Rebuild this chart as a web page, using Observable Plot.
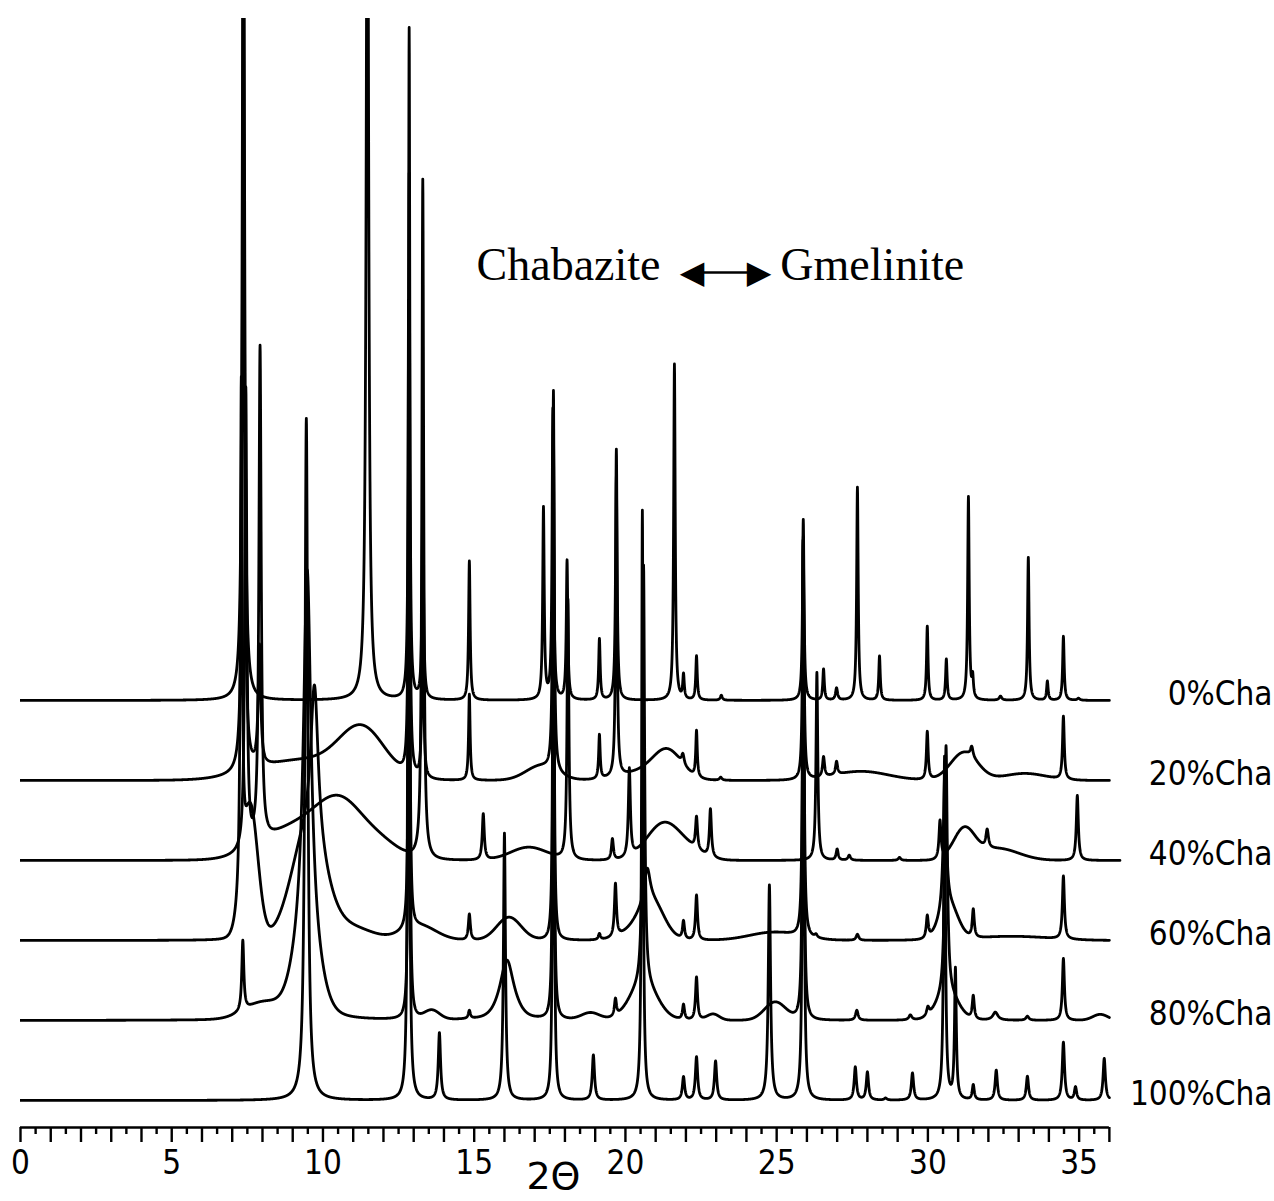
<!DOCTYPE html>
<html><head><meta charset="utf-8">
<script src="https://cdn.jsdelivr.net/npm/d3@7"></script>
<script src="https://cdn.jsdelivr.net/npm/@observablehq/plot@0.6"></script>
<style>body{margin:0;background:#fff} #chart{width:1274px;height:1201px}</style>
</head><body><div id="chart"></div>
<script>
// ---- data (2-theta, relative intensity) ----
const seriesLabels  = ["0%Cha", "20%Cha", "40%Cha", "60%Cha", "80%Cha", "100%Cha"];
const seriesOffsets = [400, 320, 240, 160, 80, 0];
const seriesEnds    = [36.0, 36.0, 36.35, 36.0, 36.0, 36.0];

// sharp reflections: [2theta, height, half-width]
const cha0Sharp = [
  [7.37,1000,0.04],[11.47,1000,0.045],[12.85,671,0.025],[13.3,200,0.03],[14.84,139,0.03],
  [17.29,191,0.03],[17.6,290,0.03],[18.07,139,0.03],[19.14,61,0.03],[19.7,251,0.03],
  [21.62,336,0.03],[21.92,24,0.03],[22.35,44,0.03],[23.17,5,0.04],[25.88,181,0.03],
  [26.55,31,0.03],[26.98,12,0.04],[27.67,213,0.03],[28.4,44,0.03],[29.98,74,0.03],
  [30.61,41,0.03],[31.34,203,0.03],[31.48,20,0.03],[32.4,4,0.05],[33.32,143,0.03],
  [33.95,19,0.03],[34.48,64,0.03],[34.98,2,0.05]
];
const cha20Sharp = [
  [7.37,800,0.04],[7.9,120,0.05],[12.85,600,0.025],[13.3,200,0.03],[14.84,86,0.03],
  [17.62,380,0.03],[19.14,44,0.03],[19.7,300,0.03],[21.9,10,0.05],[22.35,46,0.03],
  [23.15,3,0.05],[25.88,240,0.03],[26.55,20,0.04],[26.98,13,0.04],[29.98,48,0.035],
  [31.45,10,0.05],[34.48,63,0.035]
];
const cha40Sharp = [
  [7.45,460,0.04],[7.92,495,0.045],[13.3,680,0.035],[15.3,46,0.04],[18.1,260,0.035],
  [19.57,21,0.04],[20.13,88,0.04],[22.35,32,0.04],[22.81,48,0.04],[26.33,188,0.035],
  [27.0,11,0.04],[27.4,5,0.05],[29.06,3,0.05],[30.4,38,0.04],[31.96,18,0.05],[34.94,65,0.04]
];
const cha60Sharp = [
  [7.3,500,0.035],[9.72,160,0.15],[12.85,600,0.025],[14.84,26,0.04],[17.62,520,0.025],
  [19.14,6,0.04],[19.67,53,0.04],[20.72,35,0.12],[21.92,18,0.04],[22.35,45,0.04],
  [25.88,400,0.03],[26.3,3,0.05],[27.67,6,0.05],[29.98,22,0.04],[30.56,140,0.06],
  [31.5,28,0.04],[34.48,63,0.04]
];
const cha80Sharp = [
  [7.35,70,0.04],[9.48,380,0.15],[12.85,700,0.025],[14.84,8,0.04],[16.08,45,0.25],
  [17.62,600,0.025],[19.67,17,0.04],[20.6,420,0.04],[21.92,15,0.04],[22.35,43,0.04],
  [25.88,480,0.03],[27.65,10,0.05],[29.42,5,0.06],[30.0,8,0.05],[30.6,250,0.05],
  [31.5,23,0.04],[32.23,8,0.1],[33.29,4,0.06],[34.48,62,0.04]
];
const cha100Sharp = [
  [9.45,682,0.055],[12.83,800,0.03],[13.85,67,0.045],[16.0,267,0.04],[17.62,693,0.025],
  [18.94,45,0.045],[20.56,590,0.03],[21.92,23,0.045],[22.35,43,0.045],[22.98,39,0.045],
  [24.76,215,0.045],[25.88,560,0.03],[27.6,33,0.045],[28.0,28,0.045],[28.6,2,0.05],
  [29.49,27,0.045],[30.55,343,0.035],[30.91,130,0.035],[31.5,15,0.04],[32.26,30,0.045],
  [33.29,24,0.045],[34.48,58,0.045],[34.88,13,0.045],[35.83,42,0.045]
];

// broad (diffuse) features: [2theta, height, spread]
const cha0Broad = [];
const cha20Broad = [
  [9.3,20,1.4],[11.3,48,0.75],[17.2,14,0.5],[20.8,10,0.8],[21.4,24,0.45],
  [27.8,9,0.9],[31.2,28,0.45],[33.2,7,0.7]
];
const cha40Broad = [
  [9.0,30,1.0],[10.6,55,0.8],[12.0,12,0.6],[16.8,13,0.6],[21.25,36,0.55],
  [22.1,8,0.5],[31.2,30,0.35],[32.3,12,0.7]
];
const cha60Broad = [
  [7.6,130,0.25],[9.5,100,0.55],[10.9,12,0.7],[13.2,14,0.55],[16.15,23,0.4],
  [20.4,10,0.5],[20.9,32,0.4],[24.9,8,0.8],[30.7,32,0.3],[32.8,4,1.2]
];
const cha80Broad = [
  [8.0,15,0.6],[9.45,70,0.4],[13.6,9,0.25],[16.1,15,0.3],[18.85,7,0.3],
  [20.6,35,0.45],[22.9,6,0.2],[24.95,18,0.35],[30.65,25,0.35],[35.7,6,0.25]
];
const cha100Broad = [];

const sharpLists = [cha0Sharp, cha20Sharp, cha40Sharp, cha60Sharp, cha80Sharp, cha100Sharp];
const broadLists = [cha0Broad, cha20Broad, cha40Broad, cha60Broad, cha80Broad, cha100Broad];

const majorTicks = d3.range(0, 37, 1);
const minorTicks = d3.range(0.5, 36, 1);
const axisTitle = "2Θ";
const titleLeft = "Chabazite";
const titleRight = "Gmelinite";

// ---- build the patterns from the peak lists ----
function intensity(sharp, broad, x) {
  let y = 0;
  for (const [c, h, w] of sharp) { const d = (x - c) / w; y += h / (1 + d * d); }
  for (const [c, h, s] of broad) { const d = (x - c) / s; y += h * Math.exp(-0.5 * d * d); }
  return y;
}
const rows = [];
seriesLabels.forEach((label, i) => {
  const end = seriesEnds[i];
  const xs = d3.range(0, end + 1e-9, 0.005).concat(sharpLists[i].map(p => p[0]));
  xs.sort((a, b) => a - b);
  for (const x of xs) {
    rows.push({series: label, x, y: seriesOffsets[i] + intensity(sharpLists[i], broadLists[i], x)});
  }
});
const labelRows = seriesLabels.map((label, i) => ({label, y: seriesOffsets[i] + 6}));

const sansCond = "'DejaVu Sans Condensed', 'DejaVu Sans', sans-serif";
const serif = "'Liberation Serif', 'Times New Roman', serif";

const chart = Plot.plot({
  width: 1274, height: 1201,
  marginLeft: 20, marginRight: 150, marginTop: 18, marginBottom: 74,
  x: {domain: [0, 36.5], axis: null},
  y: {domain: [-27, 1082], axis: null},
  style: {background: "#fff", color: "#000"},
  marks: [
    Plot.line(rows, {x: "x", y: "y", z: "series", stroke: "#000", strokeWidth: 2.8, clip: true}),
    Plot.ruleY([{y: -27, x1: 0, x2: 36}], {y: "y", x1: "x1", x2: "x2", stroke: "#000", strokeWidth: 2.6}),
    Plot.axisX({ticks: minorTicks, tickSize: 7, tickFormat: () => "", strokeWidth: 2.4}),
    Plot.axisX({ticks: majorTicks, tickSize: 15, tickPadding: 8, strokeWidth: 2.4,
      tickFormat: d => d % 5 === 0 ? String(d) : "", fontSize: 33, fontFamily: sansCond}),
    Plot.text([axisTitle], {x: 17.62, y: -76, text: d => d, fontSize: 38, fontFamily: "'DejaVu Sans', sans-serif"}),
    Plot.text(labelRows, {y: "y", text: "label", frameAnchor: "right", textAnchor: "end", dx: 148,
      fontSize: 33, fontFamily: sansCond}),
    Plot.text([titleLeft], {x: 21.16, y: 835, text: d => d, textAnchor: "end", fontSize: 46, fontFamily: serif}),
    Plot.text([titleRight], {x: 25.12, y: 835, text: d => d, textAnchor: "start", fontSize: 46, fontFamily: serif}),
    Plot.ruleY([{y: 828, x1: 22.5, x2: 24.1}], {y: "y", x1: "x1", x2: "x2", stroke: "#000", strokeWidth: 2.6}),
    Plot.text(["◀"], {x: 22.2, y: 828, text: d => d, fontSize: 32, fontFamily: "'DejaVu Sans', sans-serif"}),
    Plot.text(["▶"], {x: 24.42, y: 828, text: d => d, fontSize: 32, fontFamily: "'DejaVu Sans', sans-serif"})
  ]
});
document.getElementById("chart").append(chart);
</script>
</body></html>
